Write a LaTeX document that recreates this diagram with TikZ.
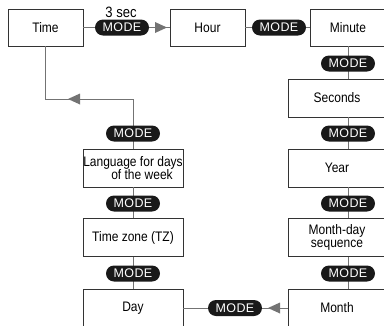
\documentclass[tikz,border=0pt]{standalone}
\usepackage{fontspec}
\setmainfont{Liberation Sans}[FakeStretch=0.87]
\newfontfamily\modefont{Liberation Sans}[LetterSpace=3]
\begin{document}
\begin{tikzpicture}[x=1pt,y=-1pt,
  box/.style={draw=black!80,line width=0.7pt,fill=white,inner sep=0pt,
    font=\fontsize{13.8}{13}\selectfont,align=center},
  topbox/.style={box,minimum width=75pt,minimum height=37pt},
  lbox/.style={box,minimum width=100pt,minimum height=38pt},
  rbox/.style={box,minimum width=98pt,minimum height=38pt},
  pill/.style={fill=black!90,text=white,rounded corners=8pt,minimum width=54pt,
    minimum height=16pt,inner sep=0pt,font=\modefont\fontsize{12.5}{12.5}\selectfont},
  conn/.style={draw=black!55,line width=0.9pt},
  trig/.style={fill=black!55}]
\useasboundingbox (0,0) rectangle (384,325);
\clip (0,0) rectangle (384,325);
% top row
\node[topbox] (time) at (45.5,27.5) {Time};
\node[topbox] (hour) at (207.5,27.5) {Hour};
\node[topbox,minimum width=76pt] (minute) at (348,27.5) {Minute};
% right column
\node[rbox] (seconds) at (337,98) {Seconds};
\node[rbox] (year) at (337,168) {Year};
\node[rbox] (mdseq) at (337,237.5) {Month-day\\sequence};
\node[rbox] (month) at (337,308) {Month};
% left column
\node[lbox] (lang) at (133,168) {Language for days\\\hspace*{18pt}of the week};
\node[lbox] (tz) at (133,237.5) {Time zone (TZ)};
\node[lbox] (day) at (133,308) {Day};
% coordinates
\coordinate (lcorner) at (133,99);
\coordinate (ltip) at (68,99);
\coordinate (ttip) at (167,27.5);
\coordinate (btip) at (268,308);
\coordinate (bline) at (0,308);
% connectors
\draw[conn] (time.east) -- (hour.west);
\draw[conn] (hour.east) -- (minute.west);
\draw[conn] (minute.south) -- (minute.south |- seconds.north);
\draw[conn] (minute.south |- seconds.south) -- (minute.south |- year.north);
\draw[conn] (minute.south |- year.south) -- (minute.south |- mdseq.north);
\draw[conn] (minute.south |- mdseq.south) -- (minute.south |- month.north);
\draw[conn] (time.south) |- (lcorner) -- (lang.north);
\draw[conn] (lang.south) -- (tz.north);
\draw[conn] (tz.south) -- (day.north);
\draw[conn] (month.west |- bline) -- (day.east |- bline);
% triangles
\fill[trig] (ttip) -- ++(-12,-5.5) -- ++(0,11) -- cycle;
\fill[trig] (ltip) -- ++(12,-5.5) -- ++(0,11) -- cycle;
\fill[trig] (btip) -- ++(12,-5.5) -- ++(0,11) -- cycle;
% pills
\node[pill] (m1) at (122,27.5) {MODE};
\node[font=\fontsize{15}{15}\selectfont,inner sep=0pt] (sec) at (121,12) {3 sec};
\node[pill] (m2) at (279,27.5) {MODE};
\node[pill] (r1) at (348,63.5) {MODE};
\node[pill] (r2) at (348,133.5) {MODE};
\node[pill] (r3) at (348,203.5) {MODE};
\node[pill] (r4) at (348,273.5) {MODE};
\node[pill] (l1) at (133,133.5) {MODE};
\node[pill] (l2) at (133,203.5) {MODE};
\node[pill] (l3) at (133,273.5) {MODE};
\node[pill] (b1) at (235,308) {MODE};
\end{tikzpicture}
\end{document}
